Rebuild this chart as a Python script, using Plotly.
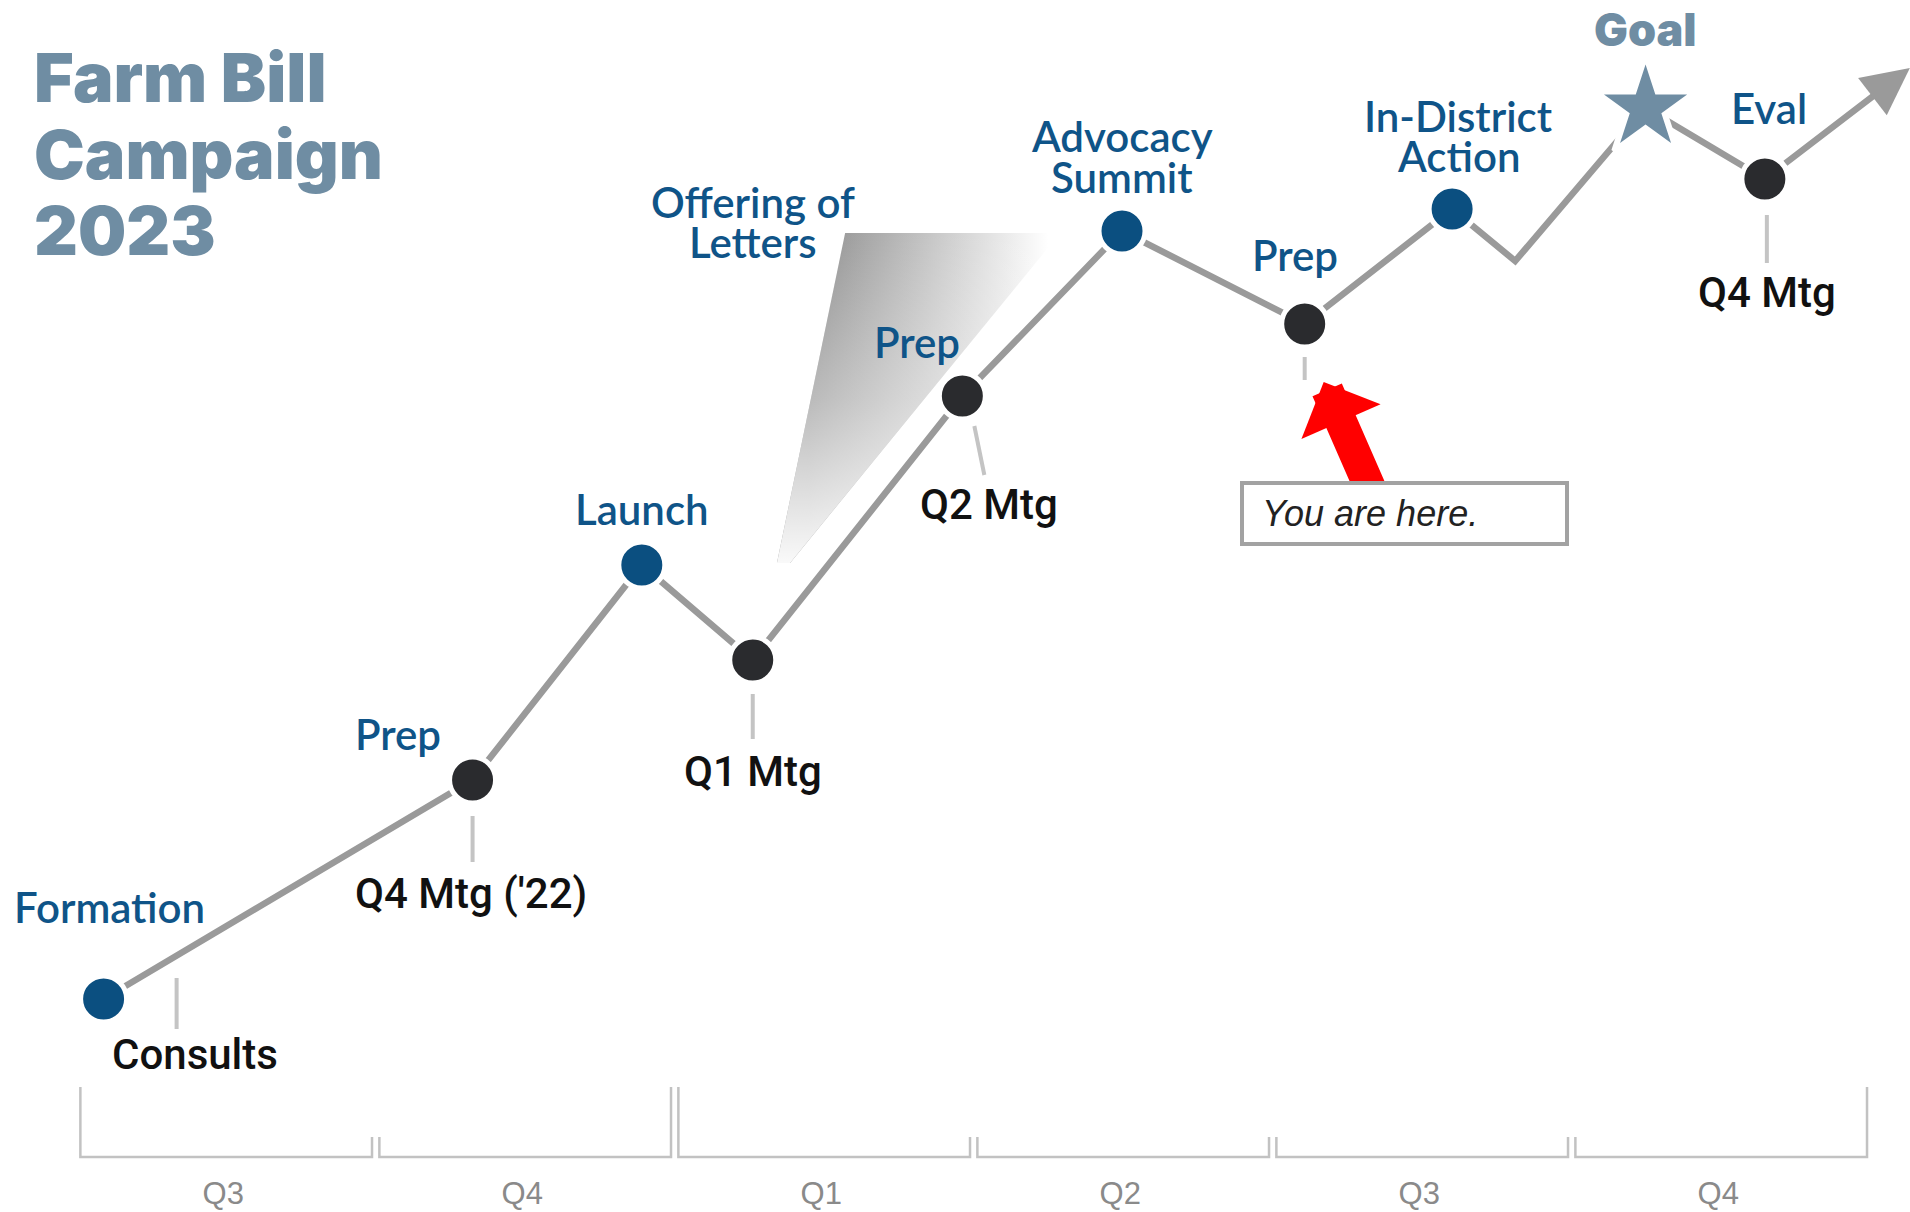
import plotly.graph_objects as go

# ---------------- data ----------------
quarters = ["Q3", "Q4", "Q1", "Q2", "Q3", "Q4"]
quarter_years = [2022, 2022, 2023, 2023, 2023, 2023]

# x: quarters elapsed since the start of Q3 2022, y: campaign momentum (arbitrary units)
stage_x = [0.090, 1.324, 1.890, 2.261, 2.962, 3.496, 4.107, 4.600, 4.811, 5.247, 5.646, 6.131]
stage_y = [1.73, 3.92, 6.07, 5.12, 7.76, 9.41, 8.48, 9.63, 9.11, 10.64, 9.93, 11.04]
stage_kind = ["event", "meeting", "event", "meeting", "meeting", "event",
              "meeting", "event", "bend", "goal", "meeting", "next"]
stage_label = ["Formation", "Prep", "Launch", "Offering of\nLetters", "Prep",
               "Advocacy\nSummit", "Prep", "In-District\nAction", "", "Goal", "Eval", ""]
meeting_label = ["Consults", "Q4 Mtg ('22)", "", "Q1 Mtg", "Q2 Mtg", "", "", "", "", "", "Q4 Mtg", ""]
current_stage = 6
current_text = "You are here."
title_lines = ["Farm Bill", "Campaign", "2023"]

# ---------------- layout / style ----------------
W, H = 1910, 1212
MARGIN_B = 40
X_RANGE = [-0.2565, 6.1314]
Y_RANGE = [0.0, 11.72]

C_LINE = "#9a9a9a"
C_TICK = "#c4c4c4"
C_BLUE = "#0b4f80"
C_BLUE_TXT = "#0f5488"
C_DARK = "#2a2b2e"
C_STEEL = "#6f8da3"
C_TXT = "#111111"
C_AXIS = "#c2c2c2"

TOP_FONT = dict(family="Lato", size=42, color=C_BLUE_TXT, weight=600)
GOAL_FONT = dict(family="Inter", size=45, color=C_STEEL, weight=900)
MEET_FONT = dict(family="Roboto", size=42, color=C_TXT, weight=500)
TITLE_FONT = dict(family="Inter", size=68, color=C_STEEL, weight=900)

# pixel offsets of labels relative to their stage point (dx, [dy per line], +dy = up)
TOP_OFFSETS = {0: (6, [92]), 1: (-75, [46]), 2: (0, [56]), 3: (0, [458, 418]),
               4: (-45, [54]), 5: (0, [95, 54]), 6: (-10, [69]), 7: (6, [93, 53]),
               9: (0, [79]), 10: (4, [71])}
MEET_OFFSETS = {0: (91, -55), 1: (-2, -113), 3: (0, -111), 4: (27, -108), 10: (2, -113)}
TICK_OFFSETS = {0: ((73, 21), (73, -30)), 1: ((0, -36), (0, -82)), 3: ((0, -34), (0, -79)),
                4: ((12, -30), (22, -79)), 6: ((0, -33), (0, -56)), 10: ((2, -36), (2, -84))}

# spotlight wedge behind "Offering of Letters"
SPOT_X = [2.570, 3.289, 2.386, 2.342]
SPOT_Y = [9.39, 9.39, 6.09, 6.09]

fig = go.Figure()

fig.add_trace(go.Scatter(
    x=SPOT_X, y=SPOT_Y, mode="none", fill="toself", hoverinfo="skip", showlegend=False,
    fillgradient=dict(type="horizontal", start=2.45, stop=3.25,
                      colorscale=[[0, "#8c8c8c"], [1, "#ffffff"]])))
fig.add_trace(go.Scatter(
    x=SPOT_X, y=SPOT_Y, mode="none", fill="toself", hoverinfo="skip", showlegend=False,
    fillgradient=dict(type="vertical", start=6.09, stop=9.39,
                      colorscale=[[0, "rgba(255,255,255,0.95)"], [0.5, "rgba(255,255,255,0.4)"],
                                  [1, "rgba(255,255,255,0)"]])))

# path
n_path = stage_kind.index("next")
fig.add_trace(go.Scatter(x=stage_x[:n_path], y=stage_y[:n_path], mode="lines",
                         line=dict(color=C_LINE, width=6.5), hoverinfo="skip", showlegend=False))


def pick(kind):
    idx = [i for i, k in enumerate(stage_kind) if k == kind]
    return [stage_x[i] for i in idx], [stage_y[i] for i in idx]


for kind, color, symbol, size, lw in [("event", C_BLUE, "circle", 46, 5),
                                      ("meeting", C_DARK, "circle", 46, 5),
                                      ("goal", C_STEEL, "star", 76, 6)]:
    xs, ys = pick(kind)
    fig.add_trace(go.Scatter(x=xs, y=ys, mode="markers", hoverinfo="skip", showlegend=False,
                             marker=dict(color=color, symbol=symbol, size=size,
                                         line=dict(color="white", width=lw))))

# arrow toward next steps
fig.add_annotation(x=stage_x[n_path], y=stage_y[n_path], ax=stage_x[n_path - 1], ay=stage_y[n_path - 1],
                   xref="x", yref="y", axref="x", ayref="y", text="", showarrow=True,
                   arrowhead=2, arrowsize=1.45, arrowwidth=6.5, arrowcolor=C_LINE, startstandoff=24)

# milestone labels
for i, text in enumerate(stage_label):
    if not text:
        continue
    dx, dys = TOP_OFFSETS[i]
    font = GOAL_FONT if stage_kind[i] == "goal" else TOP_FONT
    for line, dy in zip(text.split("\n"), dys):
        fig.add_annotation(x=stage_x[i], y=stage_y[i], text=line, showarrow=False,
                           xshift=dx, yshift=dy, xanchor="center", yanchor="middle", font=font)

for i, text in enumerate(meeting_label):
    if text:
        dx, dy = MEET_OFFSETS[i]
        fig.add_annotation(x=stage_x[i], y=stage_y[i], text=text, showarrow=False,
                           xshift=dx, yshift=dy, xanchor="center", yanchor="middle", font=MEET_FONT)

for i, (a, b) in TICK_OFFSETS.items():
    fig.add_shape(type="line", xref="x", yref="y", xsizemode="pixel", ysizemode="pixel",
                  xanchor=stage_x[i], yanchor=stage_y[i], x0=a[0], y0=a[1], x1=b[0], y1=b[1],
                  line=dict(color=C_TICK, width=4), layer="above")

# "You are here." callout
fig.add_annotation(x=stage_x[current_stage], y=stage_y[current_stage], xshift=19, yshift=-58,
                   text=" ", showarrow=True, axref="pixel", ayref="pixel", ax=52, ay=119,
                   arrowhead=1, arrowsize=0.45, arrowwidth=32, arrowcolor="#ff0000")
fig.add_annotation(x=stage_x[current_stage], y=stage_y[current_stage], xshift=100, yshift=-189,
                   text="\u00a0" + current_text, showarrow=False, align="left",
                   width=305, height=41, borderpad=8, borderwidth=4, bordercolor="#a2a2a2",
                   bgcolor="white", xanchor="center", yanchor="middle",
                   font=dict(family="Liberation Sans", size=36, color="#222222", style="italic"))

# title
for line, yp in zip(title_lines, [0.9343, 0.8686, 0.8038]):
    fig.add_annotation(xref="paper", yref="paper", x=32 / W, y=yp, text=line, showarrow=False,
                       xanchor="left", yanchor="middle", font=TITLE_FONT)

# quarter brackets
BR_BASE, BR_TALL, BR_SHORT, BR_INSET = 0.15, 0.85, 0.35, 0.0123
for q in range(len(quarters)):
    left_tall = q == 0 or quarter_years[q] != quarter_years[q - 1]
    right_tall = q == len(quarters) - 1 or quarter_years[q] != quarter_years[q + 1]
    x0, x1 = q + BR_INSET, q + 1 - BR_INSET
    yl = BR_TALL if left_tall else BR_SHORT
    yr = BR_TALL if right_tall else BR_SHORT
    fig.add_shape(type="path", xref="x", yref="y",
                  path=f"M{x0},{yl} L{x0},{BR_BASE} L{x1},{BR_BASE} L{x1},{yr}",
                  line=dict(color=C_AXIS, width=2.5), layer="below")

fig.update_layout(
    width=W, height=H, margin=dict(l=0, r=0, t=0, b=MARGIN_B),
    paper_bgcolor="white", plot_bgcolor="white", showlegend=False,
    xaxis=dict(range=X_RANGE, showgrid=False, zeroline=False, showline=False,
               tickvals=[q + 0.49 for q in range(len(quarters))], ticktext=quarters,
               ticks="", tickfont=dict(family="Liberation Sans", size=31, color="#8a8a8a"),
               automargin=False, fixedrange=True),
    yaxis=dict(range=Y_RANGE, showgrid=False, zeroline=False, showline=False,
               showticklabels=False, automargin=False, fixedrange=True),
)

fig.write_html("out.html", config={"displayModeBar": False},
               post_script="document.body.style.margin='0';document.body.style.overflow='hidden';")
